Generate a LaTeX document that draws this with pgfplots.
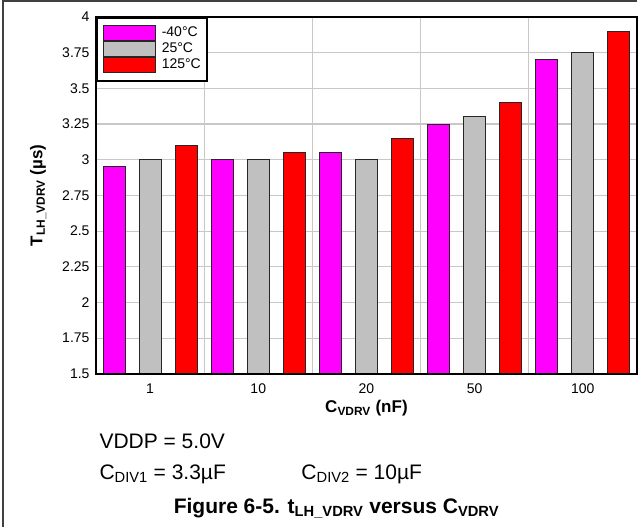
\documentclass[border=0pt]{standalone}
\usepackage{pgfplots}
\pgfplotsset{compat=1.18}
\usepackage{fontspec}
\setmainfont{Liberation Sans}

\definecolor{barmag}{RGB}{255,0,255}
\definecolor{bargray}{RGB}{192,192,192}
\definecolor{barred}{RGB}{255,0,0}
\definecolor{gridgray}{RGB}{200,200,200}

% bars drawn above the grid but below the frame
\pgfplotsset{
  layers/bars under frame/.define layer set={
    axis background,axis grid,pre main,main,axis ticks,axis lines,
    axis tick labels,axis descriptions,axis foreground
  }{
    grid style={/pgfplots/on layer=axis grid},
    tick style={/pgfplots/on layer=axis ticks},
    axis line style={/pgfplots/on layer=axis lines},
    label style={/pgfplots/on layer=axis descriptions},
    legend style={/pgfplots/on layer=axis descriptions},
    title style={/pgfplots/on layer=axis descriptions},
    ticklabel style={/pgfplots/on layer=axis tick labels},
  },
}

\begin{document}
\begin{tikzpicture}
\path (0,0) rectangle (638bp,527bp);
\draw[black!75, line width=1.2bp] (3bp,0) -- (3bp,526bp) -- (637.5bp,526bp);

\begin{axis}[
    set layers=bars under frame,
    at={(96bp,153bp)}, anchor=south west,
    scale only axis,
    width=541bp, height=357bp,
    xmin=-0.5, xmax=14.5,
    ymin=1.5, ymax=4,
    ytick distance=0.25,
    xtick={1,4,7,10,13},
    xticklabels={1,10,20,50,100},
    minor xtick={2.5,5.5,8.5,11.5},
    ymajorgrids, xminorgrids,
    grid style={gridgray, line width=1.2bp},
    minor grid style={gridgray, line width=1.2bp},
    major tick length=0pt, minor tick length=0pt,
    axis line style={black, line width=2bp},
    /pgf/number format/assume math mode=true,
    tick label style={font=\fontsize{14bp}{16bp}\selectfont},
    xticklabel style={yshift=-6bp},
    yticklabel style={xshift=-3bp},
    xlabel={\textbf{C\textsubscript{VDRV} (nF)}},
    ylabel={\textbf{T\textsubscript{LH\_VDRV} (µs)}},
    label style={font=\fontsize{17bp}{19bp}\selectfont},
    xlabel style={at={(axis description cs:0.5,-0.109)}, anchor=base},
    ylabel style={at={(axis description cs:-0.107,0.5)}, anchor=center},
    ybar, bar width=0.61, bar shift=0pt,
    legend image code/.code={\draw[#1] (0bp,-7.5bp) rectangle (52bp,7.5bp);},
    legend style={at={(0,1)}, anchor=north west, draw=black, line width=1.6bp,
        inner xsep=6bp, inner ysep=7.5bp, row sep=0pt,
        font=\fontsize{14bp}{15bp}\selectfont,
        nodes={inner sep=0pt, text height=10.5bp, text depth=4.5bp},
        /tikz/every odd column/.style={column sep=6bp},
        cells={anchor=west}},
]
\addplot[fill=barmag, draw=black!85, line width=1bp]
  coordinates {(0,2.95) (3,3.00) (6,3.05) (9,3.25) (12,3.70)};
\addplot[fill=bargray, draw=black!85, line width=1bp]
  coordinates {(1,3.00) (4,3.00) (7,3.00) (10,3.30) (13,3.75)};
\addplot[fill=barred, draw=black!85, line width=1bp]
  coordinates {(2,3.10) (5,3.05) (8,3.15) (11,3.40) (14,3.90)};
\legend{-40°C, 25°C, 125°C}
\end{axis}

\node[anchor=base west, font=\fontsize{21bp}{24bp}\selectfont] at (96bp,78bp) {VDDP = 5.0V};
\node[anchor=base west, font=\fontsize{21bp}{24bp}\selectfont] at (96bp,47.5bp) {C\textsubscript{DIV1} = 3.3µF};
\node[anchor=base west, font=\fontsize{21bp}{24bp}\selectfont] at (298bp,47.5bp) {C\textsubscript{DIV2} = 10µF};
\node[anchor=base, font=\bfseries\fontsize{21bp}{24bp}\selectfont] at (336.5bp,13.5bp)
  {Figure 6-5. t\textsubscript{LH\_VDRV} versus C\textsubscript{VDRV}};
\end{tikzpicture}
\end{document}
